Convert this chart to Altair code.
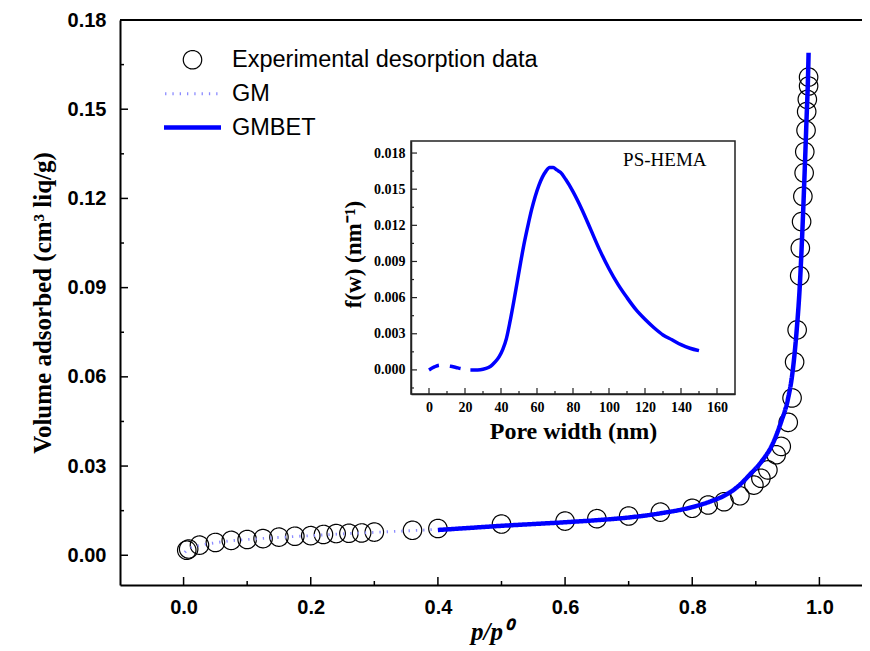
import altair as alt
import pandas as pd

# ---------------- data ----------------
series_names = ["Experimental desorption data", "GM", "GMBET"]

exp_p = [0.005, 0.008, 0.025, 0.05, 0.075, 0.1, 0.125, 0.15, 0.175, 0.2, 0.22, 0.24,
         0.26, 0.28, 0.3, 0.36, 0.4, 0.5, 0.6, 0.65, 0.7, 0.75, 0.8, 0.825, 0.85,
         0.875, 0.897, 0.908, 0.919, 0.932, 0.94, 0.951, 0.957, 0.961, 0.965, 0.969,
         0.970, 0.972, 0.974, 0.976, 0.977, 0.979, 0.980, 0.981, 0.983, 0.983]
exp_v = [0.0017, 0.0021, 0.0034, 0.0043, 0.0050, 0.0053, 0.0056, 0.0061, 0.0064, 0.0066,
         0.0070, 0.0073, 0.0074, 0.0075, 0.0078, 0.0084, 0.0090, 0.0105, 0.0115, 0.0123,
         0.0132, 0.0145, 0.0158, 0.0169, 0.0180, 0.0200, 0.0236, 0.0259, 0.0287, 0.0338,
         0.0366, 0.0447, 0.0529, 0.0650, 0.0758, 0.0940, 0.1033, 0.1122, 0.1207, 0.1286,
         0.1357, 0.1429, 0.1492, 0.1533, 0.1578, 0.1608]

gm_p = [0.002, 0.005, 0.01, 0.025, 0.05, 0.075, 0.1, 0.15, 0.2, 0.25, 0.3, 0.35, 0.4]
gm_v = [0.0010, 0.0017, 0.0024, 0.0033, 0.0042, 0.0049, 0.0053, 0.0060, 0.0066,
        0.0072, 0.0077, 0.0082, 0.0087]

gmbet_p = [0.40, 0.45, 0.50, 0.55, 0.60, 0.65, 0.70, 0.75, 0.80, 0.83, 0.85, 0.87,
           0.89, 0.91, 0.925, 0.94, 0.95, 0.958, 0.964, 0.969, 0.973, 0.977, 0.980,
           0.982, 0.983]
gmbet_v = [0.0085, 0.0092, 0.0099, 0.0105, 0.0111, 0.0118, 0.0127, 0.0141, 0.0162,
           0.0182, 0.0200, 0.0228, 0.0270, 0.0318, 0.0368, 0.0450, 0.0520, 0.0620,
           0.0750, 0.0900, 0.1080, 0.1300, 0.1480, 0.1600, 0.1690]

inset_dash_w = [0, 3, 6, 9, 12, 15, 18, 21, 23]
inset_dash_f = [0.0, 0.00025, 0.0004, 0.00035, 0.0003, 0.0002, 0.0001, 0.00005, 0.0]
inset_solid_w = [23, 27, 30, 33, 35, 37, 39, 41, 43, 45, 47, 49, 51, 53, 55, 57, 59, 61,
                 63, 65, 67, 69, 71, 73, 76, 80, 85, 90, 95, 100, 105, 110, 115, 120,
                 125, 130, 135, 140, 145, 150]
inset_solid_f = [0.0, 0.0, 0.00005, 0.0002, 0.0004, 0.0007, 0.0011, 0.0017, 0.0026,
                 0.0040, 0.0056, 0.0073, 0.0090, 0.0106, 0.0120, 0.0133, 0.0144, 0.0153,
                 0.0160, 0.0165, 0.0168, 0.0168, 0.0166, 0.0164, 0.0158, 0.0148, 0.0133,
                 0.0116, 0.0099, 0.0084, 0.0071, 0.0060, 0.0050, 0.0042, 0.0035, 0.0029,
                 0.0025, 0.0021, 0.0018, 0.0016]

x_major = [0.0, 0.2, 0.4, 0.6, 0.8, 1.0]
x_minor = [0.1, 0.3, 0.5, 0.7, 0.9]
y_major = [0.0, 0.03, 0.06, 0.09, 0.12, 0.15, 0.18]
y_minor = [0.015, 0.045, 0.075, 0.105, 0.135, 0.165]
ix_major = [0, 20, 40, 60, 80, 100, 120, 140, 160]
ix_minor = [10, 30, 50, 70, 90, 110, 130, 150]
iy_major = [0.0, 0.003, 0.006, 0.009, 0.012, 0.015, 0.018]
iy_minor = [-0.0015, 0.0015, 0.0045, 0.0075, 0.0105, 0.0135, 0.0165]

# ---------------- layout ----------------
W, H = 742, 565
XDOM = [-0.1, 1.067]
YDOM = [-0.01, 0.18]
IX_DOM = [-10, 170]
IY_DOM = [-0.002, 0.019]
IX_RANGE = [291, 615]
IY_RANGE = [374, 121]

SANS = "Liberation Sans"
SERIF = "Liberation Serif"
BLUE = "#0000ff"
GMCOL = "#8c8cff"
LINE_SYMBOL = "M-2.85,0H2.85"   # legend line sample (57 px at size 400)

df_main = pd.concat([
    pd.DataFrame({"p": exp_p, "v": exp_v, "series": series_names[0]}),
    pd.DataFrame({"p": gm_p, "v": gm_v, "series": series_names[1]}),
    pd.DataFrame({"p": gmbet_p, "v": gmbet_v, "series": series_names[2]}),
], ignore_index=True)

xscale = alt.Scale(domain=XDOM, nice=False, zero=False)
yscale = alt.Scale(domain=YDOM, nice=False, zero=False)

x_enc = alt.X("p:Q", scale=xscale, title="p/p⁰",
              axis=alt.Axis(values=x_major, format=".1f", ticks=False, tickSize=0,
                            grid=False, domainColor="black", domainWidth=2,
                            labelFont=SANS, labelFontWeight="bold", labelFontSize=20,
                            labelColor="black", labelPadding=12,
                            titleFont=SERIF, titleFontStyle="italic", titleFontWeight="bold",
                            titleFontSize=25, titleColor="black", titlePadding=2))
y_enc = alt.Y("v:Q", scale=yscale, title="Volume adsorbed (cm³ liq/g)",
              axis=alt.Axis(values=y_major, format=".2f", ticks=False, tickSize=0,
                            grid=False, domainColor="black", domainWidth=2,
                            labelFont=SANS, labelFontWeight="bold", labelFontSize=20,
                            labelColor="black", labelPadding=14,
                            titleFont=SERIF, titleFontWeight="bold",
                            titleFontSize=25, titleColor="black", titlePadding=12))

leg = alt.Legend(title=None, orient="none", legendX=60, legendY=28,
                 labelFont=SANS, labelFontSize=23.5, labelColor="black", labelLimit=0,
                 rowPadding=9, labelOffset=27, padding=0, symbolOffset=0)

color_enc = alt.Color("series:N", legend=leg,
                      scale=alt.Scale(domain=series_names, range=["black", GMCOL, BLUE]))
shape_enc = alt.Shape("series:N", legend=leg,
                      scale=alt.Scale(domain=series_names, range=["circle", LINE_SYMBOL, LINE_SYMBOL]))
size_enc = alt.Size("series:N", legend=leg,
                    scale=alt.Scale(domain=series_names, range=[340, 400, 400]))
sw_enc = alt.StrokeWidth("series:N", legend=leg,
                         scale=alt.Scale(domain=series_names, range=[1.2, 4.5, 3]))
dash_enc = alt.StrokeDash("series:N", legend=leg,
                          scale=alt.Scale(domain=series_names, range=[[1, 0], [1.3, 6], [1, 0]]))

base = alt.Chart(df_main)

points = base.transform_filter(alt.datum.series == series_names[0]).mark_point(
    filled=False, opacity=1).encode(
    x=x_enc, y=y_enc, color=color_enc, shape=shape_enc, size=size_enc,
    strokeWidth=sw_enc, strokeDash=dash_enc)

gm_line = base.transform_filter(alt.datum.series == series_names[1]).mark_line(
    strokeCap="butt", interpolate="monotone").encode(
    x="p:Q", y="v:Q", color=color_enc, strokeWidth=sw_enc, strokeDash=dash_enc)

gmbet_line = base.transform_filter(alt.datum.series == series_names[2]).mark_line(
    interpolate="monotone").encode(
    x="p:Q", y="v:Q", color=color_enc, strokeWidth=sw_enc, strokeDash=dash_enc)

# inward ticks of the main axes
xt_major = alt.Chart(pd.DataFrame({"p": x_major})).mark_rule(color="black", strokeWidth=1.5).encode(
    x="p:Q", y=alt.value(H), y2=alt.value(H - 8))
xt_minor = alt.Chart(pd.DataFrame({"p": x_minor})).mark_rule(color="black", strokeWidth=1.5).encode(
    x="p:Q", y=alt.value(H), y2=alt.value(H - 4))
yt_major = alt.Chart(pd.DataFrame({"v": y_major})).mark_rule(color="black", strokeWidth=1.5).encode(
    y="v:Q", x=alt.value(0), x2=alt.value(8))
yt_minor = alt.Chart(pd.DataFrame({"v": y_minor})).mark_rule(color="black", strokeWidth=1.5).encode(
    y="v:Q", x=alt.value(0), x2=alt.value(4))
top_border = alt.Chart(pd.DataFrame({"p": [XDOM[0]], "p2": [XDOM[1]], "v": [YDOM[1]]})).mark_rule(
    color="black", strokeWidth=2).encode(x="p:Q", x2="p2:Q", y="v:Q")

main = alt.layer(points, gm_line, gmbet_line, xt_major, xt_minor, yt_major, yt_minor, top_border)

# ---------------- inset ----------------
ixscale = alt.Scale(domain=IX_DOM, range=IX_RANGE, nice=False, zero=False)
iyscale = alt.Scale(domain=IY_DOM, range=IY_RANGE, nice=False, zero=False)

ix_enc = alt.X("w:Q", scale=ixscale, title="Pore width (nm)",
               axis=alt.Axis(orient="bottom", offset=-(H - IY_RANGE[0]), values=ix_major,
                             format="d", ticks=False, tickSize=0, grid=False,
                             domainColor="#222222", domainWidth=1.5,
                             labelFont=SERIF, labelFontWeight="bold", labelFontSize=14,
                             labelColor="black", labelPadding=6,
                             titleFont=SERIF, titleFontWeight="bold", titleFontSize=24,
                             titleColor="black", titlePadding=5))
iy_enc = alt.Y("f:Q", scale=iyscale, title="f(w) (nm⁻¹)",
               axis=alt.Axis(orient="left", offset=-IX_RANGE[0], values=iy_major,
                             format=".3f", ticks=False, tickSize=0, grid=False,
                             domainColor="#222222", domainWidth=1.5,
                             labelFont=SERIF, labelFontWeight="bold", labelFontSize=14,
                             labelColor="black", labelPadding=6,
                             titleFont=SERIF, titleFontWeight="bold", titleFontSize=23,
                             titleColor="black", titlePadding=8, titleY=234))

inset_dash = alt.Chart(pd.DataFrame({"w": inset_dash_w, "f": inset_dash_f})).mark_line(
    color=BLUE, strokeWidth=3.5, strokeDash=[11, 11], strokeCap="butt",
    interpolate="monotone").encode(x=ix_enc, y=iy_enc)
inset_solid = alt.Chart(pd.DataFrame({"w": inset_solid_w, "f": inset_solid_f})).mark_line(
    color=BLUE, strokeWidth=3.5, interpolate="monotone").encode(x="w:Q", y="f:Q")
inset_frame = alt.Chart(pd.DataFrame({"w": [IX_DOM[0]], "w2": [IX_DOM[1]],
                                      "f": [IY_DOM[0]], "f2": [IY_DOM[1]]})).mark_rect(
    fillOpacity=0, stroke="#222222", strokeWidth=1.5).encode(
    x="w:Q", x2="w2:Q", y="f:Q", y2="f2:Q")
ixt_major = alt.Chart(pd.DataFrame({"w": ix_major})).mark_rule(color="#222222", strokeWidth=1.2).encode(
    x="w:Q", y=alt.value(IY_RANGE[0]), y2=alt.value(IY_RANGE[0] - 6))
ixt_minor = alt.Chart(pd.DataFrame({"w": ix_minor})).mark_rule(color="#222222", strokeWidth=1.2).encode(
    x="w:Q", y=alt.value(IY_RANGE[0]), y2=alt.value(IY_RANGE[0] - 3))
iyt_major = alt.Chart(pd.DataFrame({"f": iy_major})).mark_rule(color="#222222", strokeWidth=1.2).encode(
    y="f:Q", x=alt.value(IX_RANGE[0]), x2=alt.value(IX_RANGE[0] + 6))
iyt_minor = alt.Chart(pd.DataFrame({"f": iy_minor})).mark_rule(color="#222222", strokeWidth=1.2).encode(
    y="f:Q", x=alt.value(IX_RANGE[0]), x2=alt.value(IX_RANGE[0] + 3))
inset_label = alt.Chart(pd.DataFrame({"w": [131], "f": [0.0174], "t": ["PS-HEMA"]})).mark_text(
    font=SERIF, fontSize=19, color="black", align="center", baseline="middle").encode(
    x="w:Q", y="f:Q", text="t:N")

inset = alt.layer(inset_frame, inset_dash, inset_solid, ixt_major, ixt_minor,
                  iyt_major, iyt_minor, inset_label)

chart = alt.layer(main, inset).resolve_scale(x="independent", y="independent").properties(
    width=W, height=H,
    autosize=alt.AutoSizeParams(type="none"),
    padding={"left": 112, "top": 12, "right": 0, "bottom": 66},
    background="white",
).configure_view(stroke=None)

chart.save("out.html", embed_options={"renderer": "svg", "actions": False})
